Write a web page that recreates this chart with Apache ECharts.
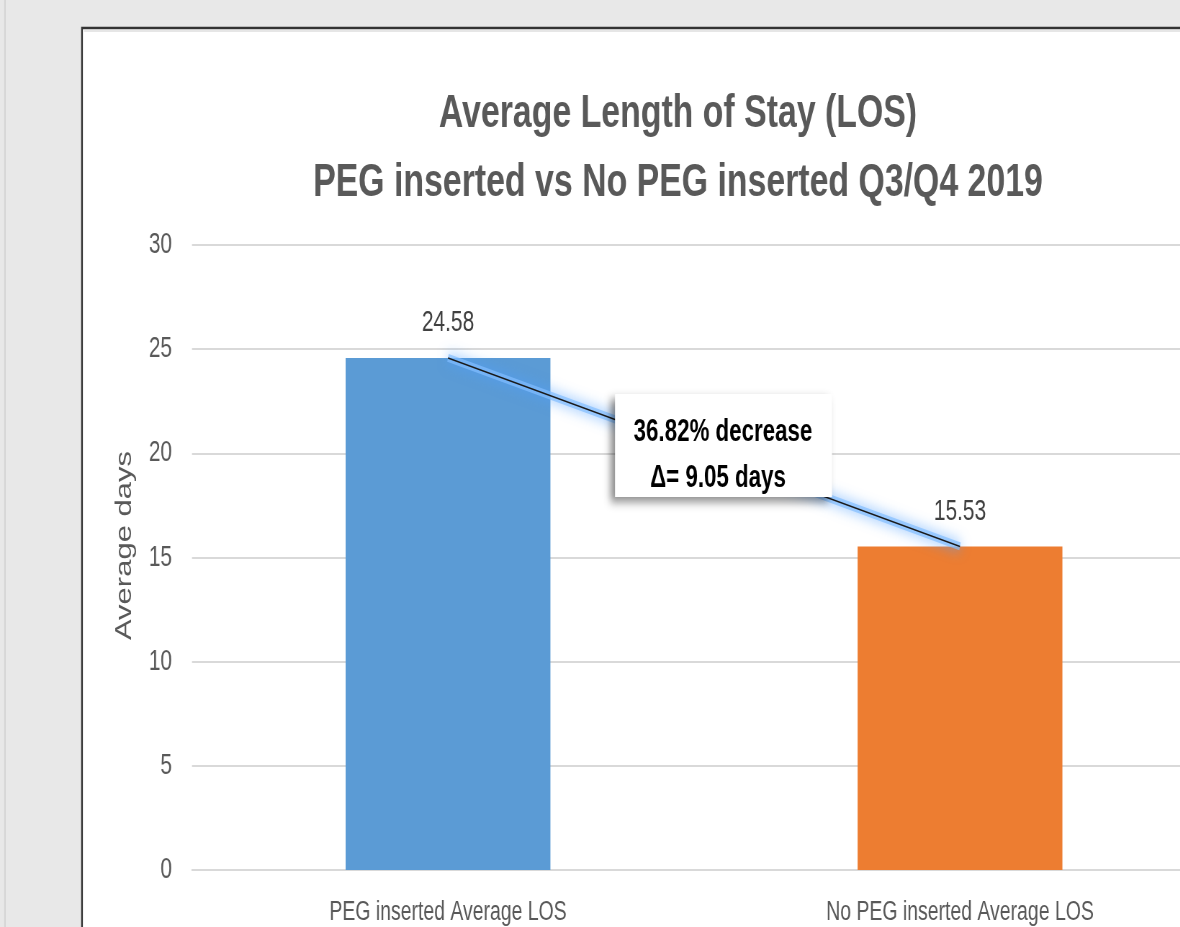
<!DOCTYPE html>
<html><head><meta charset="utf-8">
<script src="https://cdn.jsdelivr.net/npm/echarts@6/dist/echarts.min.js"></script>
<style>
html,body{margin:0;padding:0;background:#e8e8e8;overflow:hidden;width:1180px;height:927px;}
#c{width:1820px;height:927px;transform:scaleX(0.72);transform-origin:0 0;}
</style>
</head><body><div id="c"></div>
<script>
const categories = ['PEG inserted Average LOS', 'No PEG inserted Average LOS'];
const losValues = [24.58, 15.53];
const barColors = ['#5b9bd5', '#ed7d31'];
const yTicks = [0, 5, 10, 15, 20, 25, 30];
const titleLines = ['Average Length of Stay (LOS)', 'PEG inserted vs No PEG inserted Q3/Q4 2019'];
const calloutLines = ['36.82% decrease', 'Δ= 9.05 days'];

// The page is drawn on a wider canvas and squeezed horizontally (like the reference image).
const S = 0.72;
const X = v => v / S; // convert on-screen x to canvas x
const FONT = '"Liberation Sans", Arial, sans-serif';
const chart = echarts.init(document.getElementById('c'), null, {renderer: 'canvas'});
chart.setOption({
  backgroundColor: '#e8e8e8',
  animation: false,
  graphic: [
    {type: 'line', z: -20, shape: {x1: X(5), y1: 0, x2: X(5), y2: 927}, style: {stroke: '#d4d4d4', lineWidth: 2}},
    {type: 'rect', z: -10, shape: {x: X(82), y: 28, width: X(1300), height: 1000},
     style: {fill: '#ffffff', stroke: '#333333', lineWidth: 2.4}},
    {type: 'line', z: -9, shape: {x1: X(84), y1: 31, x2: X(1300), y2: 31}, style: {stroke: '#e6e6e6', lineWidth: 2}},
    {type: 'text', z: 10, x: X(678), y: 114, style: {text: titleLines[0], fill: '#595959', font: 'bold 47px ' + FONT, align: 'center', verticalAlign: 'middle'}},
    {type: 'text', z: 10, x: X(678), y: 183, style: {text: titleLines[1], fill: '#595959', font: 'bold 47px ' + FONT, align: 'center', verticalAlign: 'middle'}},
    {type: 'rect', z: 50, shape: {x: X(615), y: 394, width: X(832) - X(615), height: 103},
     style: {fill: '#ffffff', shadowBlur: 9, shadowOffsetX: -6, shadowOffsetY: 5, shadowColor: 'rgba(0,0,0,0.45)'}},
    {type: 'text', z: 51, x: X(723), y: 432, style: {text: calloutLines[0], fill: '#000000', font: 'bold 31px ' + FONT, align: 'center', verticalAlign: 'middle'}},
    {type: 'text', z: 51, x: X(718), y: 478, style: {text: calloutLines[1], fill: '#000000', font: 'bold 31px ' + FONT, align: 'center', verticalAlign: 'middle'}}
  ],
  grid: {left: X(192), width: X(1024), top: 245, bottom: 57, containLabel: false, outerBoundsMode: 'none'},
  xAxis: {
    type: 'category', data: categories,
    axisLine: {show: true, lineStyle: {color: '#d9d9d9', width: 2}},
    axisTick: {show: false},
    axisLabel: {color: '#595959', fontFamily: FONT, fontSize: 27, margin: 29}
  },
  yAxis: {
    type: 'value', min: yTicks[0], max: yTicks[yTicks.length - 1], interval: yTicks[1] - yTicks[0],
    name: 'Average days', nameLocation: 'middle', nameGap: 78, nameRotate: 90,
    nameTextStyle: {color: '#595959', fontFamily: FONT, fontSize: 31, padding: [0, 0, 0, 24]},
    axisLine: {show: false}, axisTick: {show: false},
    axisLabel: {color: '#595959', fontFamily: FONT, fontSize: 29, margin: X(20)},
    splitLine: {lineStyle: {color: '#d9d9d9', width: 2}}
  },
  series: [
    {
      type: 'bar', barWidth: '40%', z: 2,
      data: losValues.map((v, i) => ({value: v, itemStyle: {color: barColors[i]}})),
      label: {show: true, position: 'top', distance: 20, color: '#404040', fontFamily: FONT, fontSize: 29,
        formatter: p => p.value.toFixed(2)}
    },
    {
      type: 'line', data: losValues, symbol: 'none', z: 4, silent: true,
      lineStyle: {color: 'rgba(130,190,255,0.7)', width: 8, shadowColor: 'rgba(80,160,255,1)', shadowBlur: 14}
    },
    {
      type: 'line', data: losValues, symbol: 'none', z: 5, silent: true,
      lineStyle: {color: '#1a1a1a', width: 1.5}
    }
  ]
});
</script></body></html>
